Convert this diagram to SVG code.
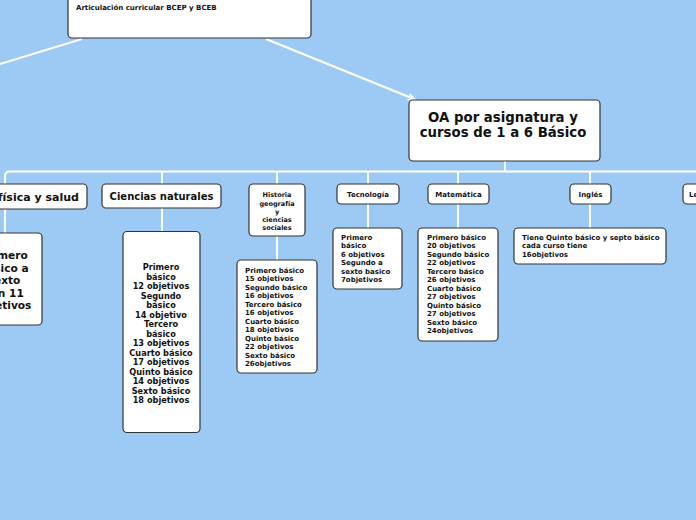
<svg xmlns="http://www.w3.org/2000/svg" width="696" height="520" viewBox="0 0 696 520">
<defs>
<style>
.bg{fill:#9dcaf5}
.n{fill:#fff;stroke:#333;stroke-width:1.2}
.c{fill:none;stroke:#fff;stroke-width:2}
text{font-family:"DejaVu Sans","Verdana",sans-serif;font-weight:bold;fill:#111}
.m{text-anchor:middle}
</style>
<marker id="ah" markerWidth="8" markerHeight="8" refX="6" refY="4" orient="auto" markerUnits="userSpaceOnUse">
<path d="M0,1 L7,4 L0,7" fill="none" stroke="#fff" stroke-width="1.5"/>
</marker>
</defs>
<rect class="bg" x="0" y="0" width="696" height="520"/>
<g id="connectors">
<path class="c" d="M82,39 L-10,67"/>
<path class="c" d="M266,39 L414,99" marker-end="url(#ah)"/>
<path class="c" d="M505,161 V171.5"/>
<path class="c" d="M5,184 V176 Q5,171.5 10,171.5 H700"/>
<path class="c" d="M162,171.5 V184 M162,208 V232"/>
<path class="c" d="M5,209 V233"/>
<path class="c" d="M277,171.5 V184 M277,236 V260"/>
<path class="c" d="M368,171.5 V184 M368,204 V228"/>
<path class="c" d="M458,171.5 V184 M458,204 V228"/>
<path class="c" d="M590,171.5 V184 M590,204 V228"/>
</g>
<g id="root">
<rect class="n" x="68" y="-10" width="243" height="48" rx="4"/>
<text x="76" y="10" font-size="7">Articulación curricular BCEP y BCEB</text>
</g>
<g id="oa">
<rect class="n" x="409" y="100" width="191" height="61" rx="4"/>
<text class="m" x="503" y="121.5" font-size="13.3">OA por asignatura y</text>
<text class="m" x="503" y="137" font-size="13.3">cursos de 1 a 6 Básico</text>
</g>
<g id="edfisica">
<rect class="n" x="-77" y="184" width="164" height="25" rx="4"/>
<text class="m" x="5" y="201" font-size="11">Educación física y salud</text>
</g>
<g id="edfisica-detail">
<rect class="n" x="-32" y="233" width="74" height="92" rx="4"/>
<text class="m" x="5" font-size="10.6"><tspan x="4" y="259">Primero</tspan><tspan x="4" y="272">básico a</tspan><tspan x="4" y="284">sexto</tspan><tspan x="4" y="297">con 11</tspan><tspan x="4" y="309">objetivos</tspan></text>
</g>
<g id="ciencias">
<rect class="n" x="102" y="184" width="119" height="24" rx="4"/>
<text class="m" x="161.5" y="200" font-size="10">Ciencias naturales</text>
</g>
<g id="ciencias-detail">
<rect class="n" x="123" y="231.5" width="77" height="201" rx="4"/>
<text class="m" font-size="8.2"><tspan x="161" y="270">Primero</tspan><tspan x="161" y="279.5">básico</tspan><tspan x="161" y="289">12 objetivos</tspan><tspan x="161" y="298.5">Segundo</tspan><tspan x="161" y="308">básico</tspan><tspan x="161" y="317.5">14 objetivo</tspan><tspan x="161" y="327">Tercero</tspan><tspan x="161" y="336.5">básico</tspan><tspan x="161" y="346">13 objetivos</tspan><tspan x="161" y="355.5">Cuarto básico</tspan><tspan x="161" y="365">17 objetivos</tspan><tspan x="161" y="374.5">Quinto básico</tspan><tspan x="161" y="384">14 objetivos</tspan><tspan x="161" y="393.5">Sexto básico</tspan><tspan x="161" y="403">18 objetivos</tspan></text>
</g>
<g id="historia">
<rect class="n" x="249" y="184" width="56" height="52" rx="4"/>
<text class="m" font-size="6.5"><tspan x="277" y="197">Historia</tspan><tspan x="277" y="206">geografía</tspan><tspan x="277" y="214">y</tspan><tspan x="277" y="221.5">ciencias</tspan><tspan x="277" y="229.5">sociales</tspan></text>
</g>
<g id="historia-detail">
<rect class="n" x="237" y="260" width="80" height="113" rx="4"/>
<text font-size="7"><tspan x="245" y="272.5">Primero básico</tspan><tspan x="245" y="281">15 objetivos</tspan><tspan x="245" y="289.5">Segundo básico</tspan><tspan x="245" y="298">16 objetivos</tspan><tspan x="245" y="306.5">Tercero básico</tspan><tspan x="245" y="315">16 objetivos</tspan><tspan x="245" y="323.5">Cuarto básico</tspan><tspan x="245" y="332">18 objetivos</tspan><tspan x="245" y="340.5">Quinto básico</tspan><tspan x="245" y="349">22 objetivos</tspan><tspan x="245" y="357.5">Sexto básico</tspan><tspan x="245" y="366">26objetivos</tspan></text>
</g>
<g id="tecnologia">
<rect class="n" x="337" y="184" width="62" height="20" rx="4"/>
<text class="m" x="368" y="196.5" font-size="7">Tecnología</text>
</g>
<g id="tecnologia-detail">
<rect class="n" x="333" y="228" width="69" height="61" rx="4"/>
<text font-size="7"><tspan x="341" y="239.5">Primero</tspan><tspan x="341" y="248">básico</tspan><tspan x="341" y="256.5">6 objetivos</tspan><tspan x="341" y="265">Segundo a</tspan><tspan x="341" y="273.5">sexto basico</tspan><tspan x="341" y="282">7objetivos</tspan></text>
</g>
<g id="matematica">
<rect class="n" x="428" y="184" width="61" height="20" rx="4"/>
<text class="m" x="458.5" y="196.5" font-size="7">Matemática</text>
</g>
<g id="matematica-detail">
<rect class="n" x="418" y="228" width="80" height="113" rx="4"/>
<text font-size="7"><tspan x="427" y="239.5">Primero básico</tspan><tspan x="427" y="248">20 objetivos</tspan><tspan x="427" y="256.5">Segundo básico</tspan><tspan x="427" y="265">22 objetivos</tspan><tspan x="427" y="273.5">Tercero básico</tspan><tspan x="427" y="282">26 objetivos</tspan><tspan x="427" y="290.5">Cuarto básico</tspan><tspan x="427" y="299">27 objetivos</tspan><tspan x="427" y="307.5">Quinto básico</tspan><tspan x="427" y="316">27 objetivos</tspan><tspan x="427" y="324.5">Sexto básico</tspan><tspan x="427" y="333">24objetivos</tspan></text>
</g>
<g id="ingles">
<rect class="n" x="570" y="184" width="41" height="20" rx="4"/>
<text class="m" x="590.5" y="196.5" font-size="7">Inglés</text>
</g>
<g id="ingles-detail">
<rect class="n" x="514" y="228" width="152" height="36" rx="4"/>
<text font-size="7"><tspan x="522" y="239.5">Tiene Quinto básico y septo básico</tspan><tspan x="522" y="248">cada curso tiene</tspan><tspan x="522" y="256.5">16objetivos</tspan></text>
</g>
<g id="lenguaje">
<rect class="n" x="683" y="184" width="52" height="20" rx="4"/>
<text x="689" y="196.5" font-size="7">Lenguaje</text>
</g>
</svg>
